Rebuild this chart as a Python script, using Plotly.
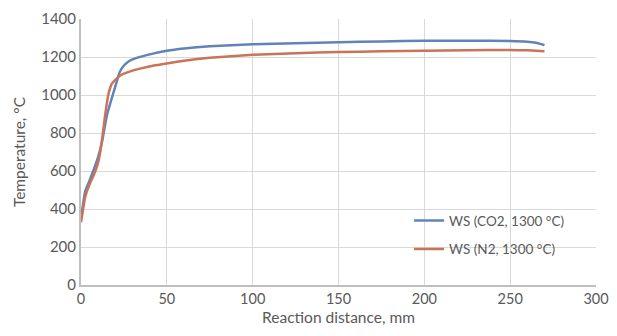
import plotly.graph_objects as go

co2_x = [0, 2.5, 5, 7.5, 10, 12.5, 15, 17.5, 20, 22.5, 25, 27.5, 30, 35, 42.5, 50, 60, 75, 100, 125, 150, 175, 200, 225, 250, 260, 265, 268, 270]
co2_y = [350, 495, 550, 610, 675, 765, 890, 970, 1045, 1120, 1155, 1175, 1187, 1202, 1219, 1233, 1245, 1257, 1267, 1273, 1278, 1282, 1285, 1286, 1284, 1280, 1275, 1268, 1262]

n2_x = [0, 2.5, 5, 7.5, 10, 12, 14, 16, 18, 20, 22.5, 25, 30, 35, 42.5, 50, 60, 75, 100, 125, 150, 175, 200, 225, 250, 260, 270]
n2_y = [330, 465, 530, 580, 645, 746, 890, 1005, 1060, 1080, 1100, 1112, 1128, 1140, 1155, 1166, 1180, 1196, 1212, 1220, 1226, 1230, 1233, 1236, 1237, 1235, 1230]

x_ticks = [0, 50, 100, 150, 200, 250, 300]
y_ticks = [0, 200, 400, 600, 800, 1000, 1200, 1400]

font_family = "Lato, 'Open Sans', sans-serif"
grey = "#595959"

fig = go.Figure()
fig.add_trace(go.Scatter(x=co2_x, y=co2_y, mode="lines", name="WS (CO2, 1300 °C)",
                         line=dict(color="#6283b6", width=2.5, shape="spline", smoothing=0.4),
                         legendgroup="a"))
fig.add_trace(go.Scatter(x=n2_x, y=n2_y, mode="lines", name="WS (N2, 1300 °C)",
                         line=dict(color="#c8735a", width=2.5, shape="spline", smoothing=0.4),
                         legendgroup="b"))

fig.update_layout(
    width=601, height=318,
    margin=dict(l=73, r=13, t=11, b=41),
    paper_bgcolor="white", plot_bgcolor="white",
    font=dict(family=font_family, color=grey, size=15),
    legend=dict(x=0.637, y=0.30, xanchor="left", yanchor="top",
                bgcolor="rgba(0,0,0,0)", font=dict(size=13.5, color=grey),
                tracegroupgap=8, itemwidth=30),
    showlegend=True,
)
fig.update_xaxes(range=[0, 300], tickvals=x_ticks, showgrid=True, gridcolor="#d9d9d9", gridwidth=1,
                 showline=True, linecolor="#bfbfbf", linewidth=2, zeroline=False,
                 ticks="", ticklen=0, tickfont=dict(size=14.5, color=grey), automargin=False,
                 ticklabeloverflow="allow",
                 title=dict(text="Reaction distance, mm", font=dict(size=15.5, color=grey), standoff=8))
fig.update_yaxes(range=[0, 1400], tickvals=y_ticks, showgrid=True, gridcolor="#d9d9d9", gridwidth=1,
                 showline=True, linecolor="#bfbfbf", linewidth=2, zeroline=False,
                 ticks="", ticklen=0, tickfont=dict(size=15, color=grey), automargin=False,
                 title=dict(text="Temperature, °C", font=dict(size=15.5, color=grey), standoff=12))

fig.write_html("out.html")
